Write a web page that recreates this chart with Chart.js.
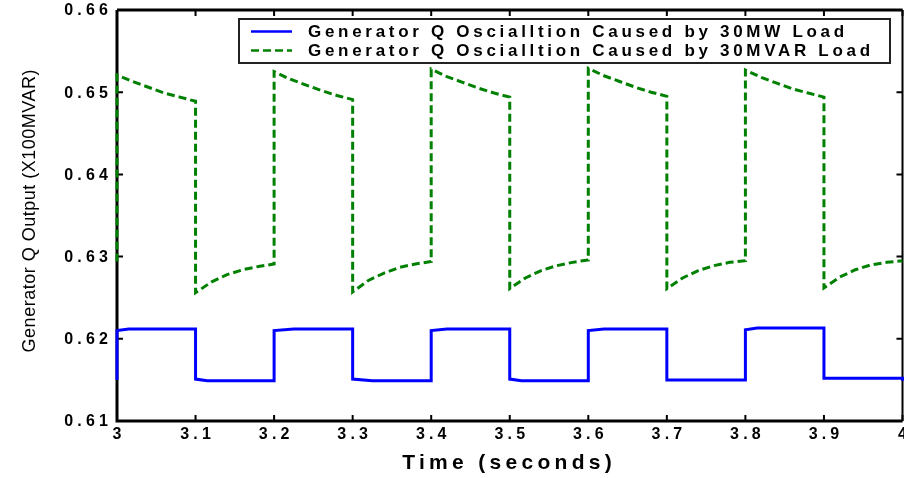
<!DOCTYPE html>
<html>
<head>
<meta charset="utf-8">
<script src="https://cdn.jsdelivr.net/npm/chart.js@4.4.1/dist/chart.umd.min.js"></script>
<style>
  html, body { margin: 0; padding: 0; background: #fff; }
  #wrap { width: 904px; height: 478px; }
</style>
</head>
<body>
<div id="wrap"><canvas id="myChart" width="904" height="478"></canvas></div>
<script>
// du lieu doc tu hinh
const legendLabels = [
        'Generator Q Oscialltion Caused by 30MW Load',
        'Generator Q Oscialltion Caused by 30MVAR Load'
];
const xTitle = 'Time (seconds)';
const yTitle = 'Generator Q Output (X100MVAR)';
const xTicks = [3, 3.1, 3.2, 3.3, 3.4, 3.5, 3.6, 3.7, 3.8, 3.9, 4];
const xTickLabels = ['3', '3.1', '3.2', '3.3', '3.4', '3.5', '3.6', '3.7', '3.8', '3.9', '4'];
const yTicks = [0.61, 0.62, 0.63, 0.64, 0.65, 0.66];
const yTickLabels = ['0.61', '0.62', '0.63', '0.64', '0.65', '0.66'];

// 30MW load (blue)
const timeMW = [3.0, 3.0, 3.015, 3.1, 3.1, 3.115, 3.2, 3.2, 3.225, 3.3, 3.3, 3.325,
        3.4, 3.4, 3.42, 3.5, 3.5, 3.515, 3.6, 3.6, 3.62, 3.7, 3.7, 3.8, 3.8, 3.815,
        3.9, 3.9, 4.0, 4.0];
const qMW = [0.6150, 0.6210, 0.6212, 0.6212, 0.6151, 0.6149, 0.6149, 0.6210, 0.6212, 0.6212, 0.6151, 0.6149,
        0.6149, 0.6210, 0.6212, 0.6212, 0.6151, 0.6149, 0.6149, 0.6210, 0.6212, 0.6212, 0.6150, 0.6150, 0.6211, 0.6213,
        0.6213, 0.6152, 0.6152, 0.6149];

// 30MVAR load (green)
const timeMVAR = [3.0,
        3.0, 3.02, 3.04, 3.06, 3.08, 3.1,
        3.1, 3.12, 3.14, 3.16, 3.18, 3.2,
        3.2, 3.22, 3.24, 3.26, 3.28, 3.3,
        3.3, 3.32, 3.34, 3.36, 3.38, 3.4,
        3.4, 3.42, 3.44, 3.46, 3.48, 3.5,
        3.5, 3.52, 3.54, 3.56, 3.58, 3.6,
        3.6, 3.62, 3.64, 3.66, 3.68, 3.7,
        3.7, 3.72, 3.74, 3.76, 3.78, 3.8,
        3.8, 3.82, 3.84, 3.86, 3.88, 3.9,
        3.9, 3.92, 3.94, 3.96, 3.98, 4.0];
const qMVAR = [0.6294,
        0.6521, 0.6513, 0.6506, 0.6499, 0.6494, 0.6489,
        0.6256, 0.6269, 0.6278, 0.6284, 0.6288, 0.6291,
        0.6525, 0.6516, 0.6509, 0.6502, 0.6496, 0.6491,
        0.6257, 0.6271, 0.6280, 0.6287, 0.6291, 0.6294,
        0.6528, 0.6519, 0.6512, 0.6505, 0.6499, 0.6494,
        0.6261, 0.6274, 0.6283, 0.6289, 0.6293, 0.6296,
        0.6529, 0.6520, 0.6513, 0.6506, 0.6500, 0.6495,
        0.6261, 0.6274, 0.6283, 0.6289, 0.6293, 0.6295,
        0.6527, 0.6518, 0.6511, 0.6504, 0.6499, 0.6494,
        0.6262, 0.6275, 0.6284, 0.6290, 0.6293, 0.6295];

const colors = ['rgb(0,0,255)', 'rgb(0,128,0)'];
const FONT = '"Liberation Sans", Arial, sans-serif';

const toPoints = (xs, ys) => xs.map((x, i) => ({ x: x, y: ys[i] }));

// ve chu voi khoang cach chu, align: 'left' | 'center' | 'right'
function spacedText(ctx, text, x, y, font, spacing, align, baseline) {
        ctx.save();
        ctx.font = font;
        ctx.letterSpacing = '0px';
        const w = ctx.measureText(text).width + spacing * (text.length - 1);
        ctx.font = font;
        ctx.letterSpacing = spacing + 'px';
        ctx.textAlign = 'left';
        ctx.textBaseline = baseline || 'alphabetic';
        let x0 = x;
        if (align === 'center') x0 = x - w / 2;
        if (align === 'right') x0 = x - w;
        ctx.fillText(text, x0, y);
        ctx.restore();
}

const framePlugin = {
        id: 'frame',
        beforeDatasetsDraw(chart) {
                const ctx = chart.ctx;
                const a = chart.chartArea;
                const xs = chart.scales.x;
                const ys = chart.scales.y;
                ctx.save();
                ctx.strokeStyle = '#000';
                ctx.lineCap = 'butt';
                // khung
                ctx.lineWidth = 3;
                ctx.beginPath();
                ctx.moveTo(a.left, a.top);
                ctx.lineTo(a.left, a.bottom);
                ctx.lineTo(a.right, a.bottom);
                ctx.moveTo(a.left, a.top);
                ctx.lineTo(a.right, a.top);
                ctx.stroke();
                ctx.lineWidth = 2;
                ctx.beginPath();
                ctx.moveTo(a.right, a.top);
                ctx.lineTo(a.right, a.bottom);
                ctx.stroke();
                // vach chia huong vao trong
                ctx.lineWidth = 2;
                ctx.beginPath();
                xTicks.forEach(v => {
                        const px = xs.getPixelForValue(v);
                        ctx.moveTo(px, a.bottom);
                        ctx.lineTo(px, a.bottom - 6);
                        ctx.moveTo(px, a.top);
                        ctx.lineTo(px, a.top + 6);
                });
                yTicks.forEach(v => {
                        const py = ys.getPixelForValue(v);
                        ctx.moveTo(a.left, py);
                        ctx.lineTo(a.left + 6, py);
                        ctx.moveTo(a.right, py);
                        ctx.lineTo(a.right - 6, py);
                });
                ctx.stroke();
                ctx.restore();
        },
        afterDraw(chart) {
                const ctx = chart.ctx;
                const xs = chart.scales.x;
                const ys = chart.scales.y;
                ctx.fillStyle = '#000';
                // nhan truc
                const tickFont = 'bold 16px ' + FONT;
                xTicks.forEach((v, i) => {
                        spacedText(ctx, xTickLabels[i], xs.getPixelForValue(v), 435, tickFont, 4.2, 'center', 'middle');
                });
                yTicks.forEach((v, i) => {
                        spacedText(ctx, yTickLabels[i], 108, ys.getPixelForValue(v) + 1, tickFont, 4.2, 'right', 'middle');
                });
                // ten truc
                spacedText(ctx, xTitle, 507, 469, 'bold 21px ' + FONT, 4.3, 'center');
                ctx.save();
                ctx.translate(35, 211);
                ctx.rotate(-Math.PI / 2);
                spacedText(ctx, yTitle, 0, 0, '18px ' + FONT, 0.5, 'center');
                ctx.restore();
                // chu thich
                ctx.save();
                ctx.fillStyle = '#fff';
                ctx.fillRect(239, 19, 651, 44);
                ctx.strokeStyle = '#222';
                ctx.lineWidth = 2;
                ctx.strokeRect(239, 19, 651, 44);
                const rows = [31.5, 50.5];
                chart.data.datasets.forEach((ds, i) => {
                        ctx.beginPath();
                        ctx.strokeStyle = ds.borderColor;
                        ctx.lineWidth = 2.5;
                        ctx.setLineDash(ds.borderDash || []);
                        ctx.moveTo(251, rows[i]);
                        ctx.lineTo(292, rows[i]);
                        ctx.stroke();
                        ctx.setLineDash([]);
                        ctx.fillStyle = '#000';
                        spacedText(ctx, legendLabels[i], 308, rows[i] + 1, 'bold 17px ' + FONT, 3.7, 'left', 'middle');
                });
                ctx.restore();
        }
};

const data = {
        datasets: [{
                label: legendLabels[0],
                data: toPoints(timeMW, qMW),
                borderColor: colors[0],
                borderWidth: 3,
                pointRadius: 0,
                tension: 0,
                clip: false
        }, {
                label: legendLabels[1],
                data: toPoints(timeMVAR, qMVAR),
                borderColor: colors[1],
                borderWidth: 3,
                borderDash: [8, 4],
                pointRadius: 0,
                tension: 0,
                clip: false
        }]
};

const config = {
        type: 'line',
        data: data,
        options: {
                responsive: false,
                animation: false,
                layout: { padding: { top: 10, right: 1.5, left: 0, bottom: 0 } },
                plugins: { legend: { display: false }, tooltip: { enabled: false } },
                scales: {
                        x: {
                                type: 'linear',
                                min: 3,
                                max: 4,
                                afterFit: s => { s.height = 57; },
                                afterBuildTicks: s => { s.ticks = xTicks.map(v => ({ value: v })); },
                                grid: { display: false },
                                border: { display: false },
                                ticks: { display: false }
                        },
                        y: {
                                min: 0.61,
                                max: 0.66,
                                afterFit: s => { s.width = 117; },
                                afterBuildTicks: s => { s.ticks = yTicks.map(v => ({ value: v })); },
                                grid: { display: false },
                                border: { display: false },
                                ticks: { display: false }
                        }
                }
        },
        plugins: [framePlugin]
};

const myChart = new Chart(document.getElementById('myChart'), config);
</script>
</body>
</html>
